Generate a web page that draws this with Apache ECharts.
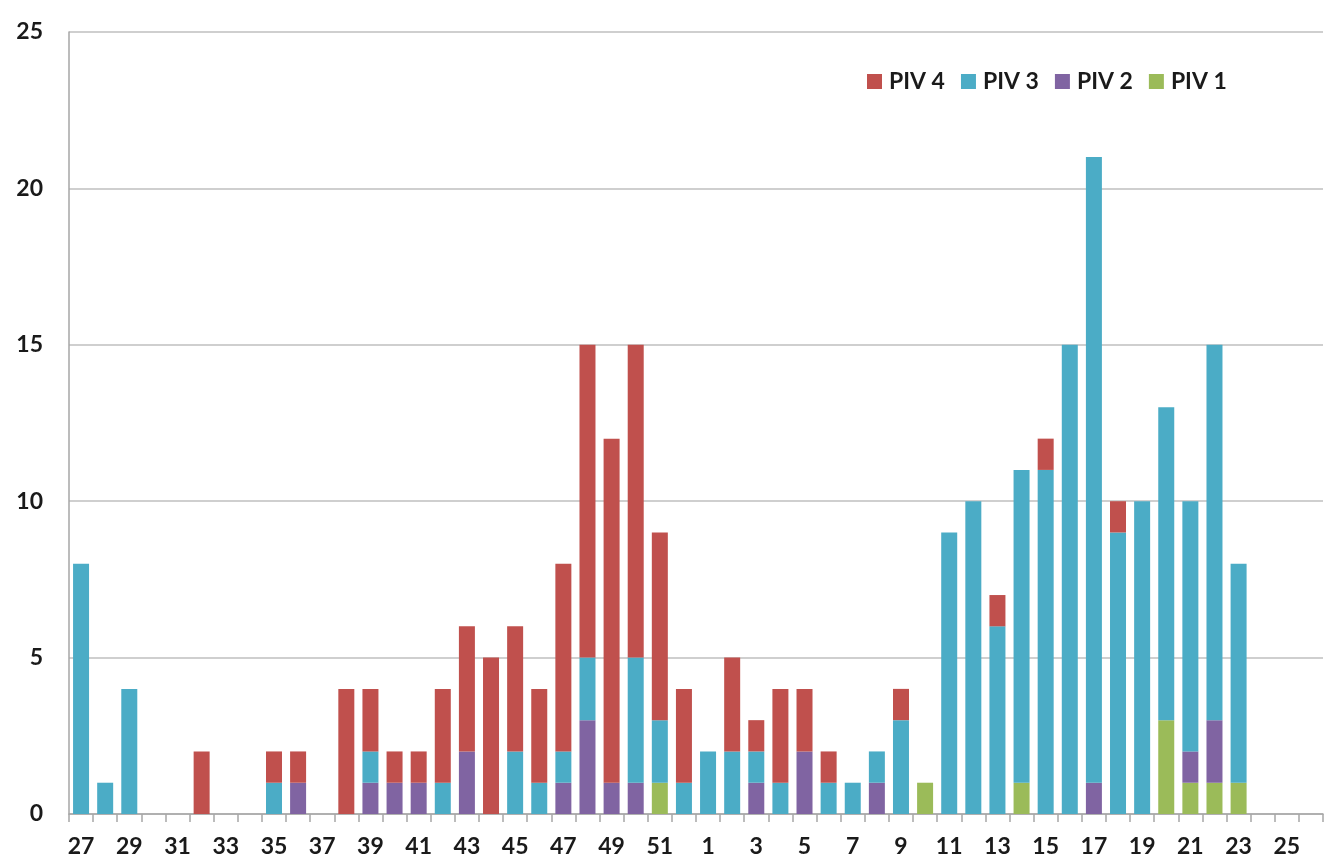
<!DOCTYPE html>
<html>
<head>
<meta charset="utf-8">
<script src="https://cdn.jsdelivr.net/npm/echarts@6/dist/echarts.min.js"></script>
<style>
html,body{margin:0;padding:0;background:#fff;}
#chart{width:1332px;height:865px;}
</style>
</head>
<body>
<div id="chart"></div>
<script>
const weeks = ['27','28','29','30','31','32','33','34','35','36','37','38','39','40','41','42','43','44','45','46','47','48','49','50','51','52',
               '1','2','3','4','5','6','7','8','9','10','11','12','13','14','15','16','17','18','19','20','21','22','23','24','25','26'];
const piv1 = [0,0,0,0,0,0,0,0,0,0,0,0,0,0,0,0,0,0,0,0,0,0,0,0,1,0,
              0,0,0,0,0,0,0,0,0,1,0,0,0,1,0,0,0,0,0,3,1,1,1,0,0,0];
const piv2 = [0,0,0,0,0,0,0,0,0,1,0,0,1,1,1,0,2,0,0,0,1,3,1,1,0,0,
              0,0,1,0,2,0,0,1,0,0,0,0,0,0,0,0,1,0,0,0,1,2,0,0,0,0];
const piv3 = [8,1,4,0,0,0,0,0,1,0,0,0,1,0,0,1,0,0,2,1,1,2,0,4,2,1,
              2,2,1,1,0,1,1,1,3,0,9,10,6,10,11,15,20,9,10,10,8,12,7,0,0,0];
const piv4 = [0,0,0,0,0,2,0,0,1,1,0,4,2,1,1,3,4,5,4,3,6,10,11,10,6,3,
              0,3,1,3,2,1,0,0,1,0,0,0,1,0,1,0,0,1,0,0,0,0,0,0,0,0];
const yTicks = {min:0, max:25, interval:5};

const colors = {'PIV 1':'#9BBB59','PIV 2':'#8064A2','PIV 3':'#4BACC6','PIV 4':'#C0504D'};
const font = 'Lato, "Open Sans", sans-serif';
const mk = (name, data) => ({
  name, type:'bar', stack:'total', data, barWidth:16,
  itemStyle:{color:colors[name]}, emphasis:{disabled:true}
});

const chart = echarts.init(document.getElementById('chart'), null, {renderer:'canvas'});
chart.setOption({
  animation:false,
  textStyle:{fontFamily:font},
  grid:{left:69, right:9, top:32, bottom:51, containLabel:false},
  legend:{
    data:['PIV 4','PIV 3','PIV 2','PIV 1'],
    left:862, top:65, itemWidth:15, itemHeight:15, itemGap:16,
    icon:'rect',
    textStyle:{fontFamily:font, fontWeight:'bold', fontSize:23, color:'#1a1a1a', padding:[0,0,0,2]}
  },
  xAxis:{
    type:'category', data:weeks,
    axisLine:{show:true, lineStyle:{color:'#a6a6a6', width:1.5}},
    axisTick:{show:true, interval:0, alignWithLabel:false, length:8, lineStyle:{color:'#a6a6a6', width:1.5}},
    axisLabel:{interval:1, fontFamily:font, fontWeight:'bold', fontSize:23, color:'#1a1a1a', margin:21},
    splitLine:{show:false}
  },
  yAxis:{
    type:'value', min:yTicks.min, max:yTicks.max, interval:yTicks.interval,
    axisLine:{show:true, lineStyle:{color:'#a6a6a6', width:1.5}},
    axisTick:{show:false},
    axisLabel:{fontFamily:font, fontWeight:'bold', fontSize:23, color:'#1a1a1a', margin:26},
    splitLine:{show:true, lineStyle:{color:'#bfbfbf', width:1.5}}
  },
  series:[mk('PIV 1',piv1), mk('PIV 2',piv2), mk('PIV 3',piv3), mk('PIV 4',piv4)]
});
</script>
</body>
</html>
